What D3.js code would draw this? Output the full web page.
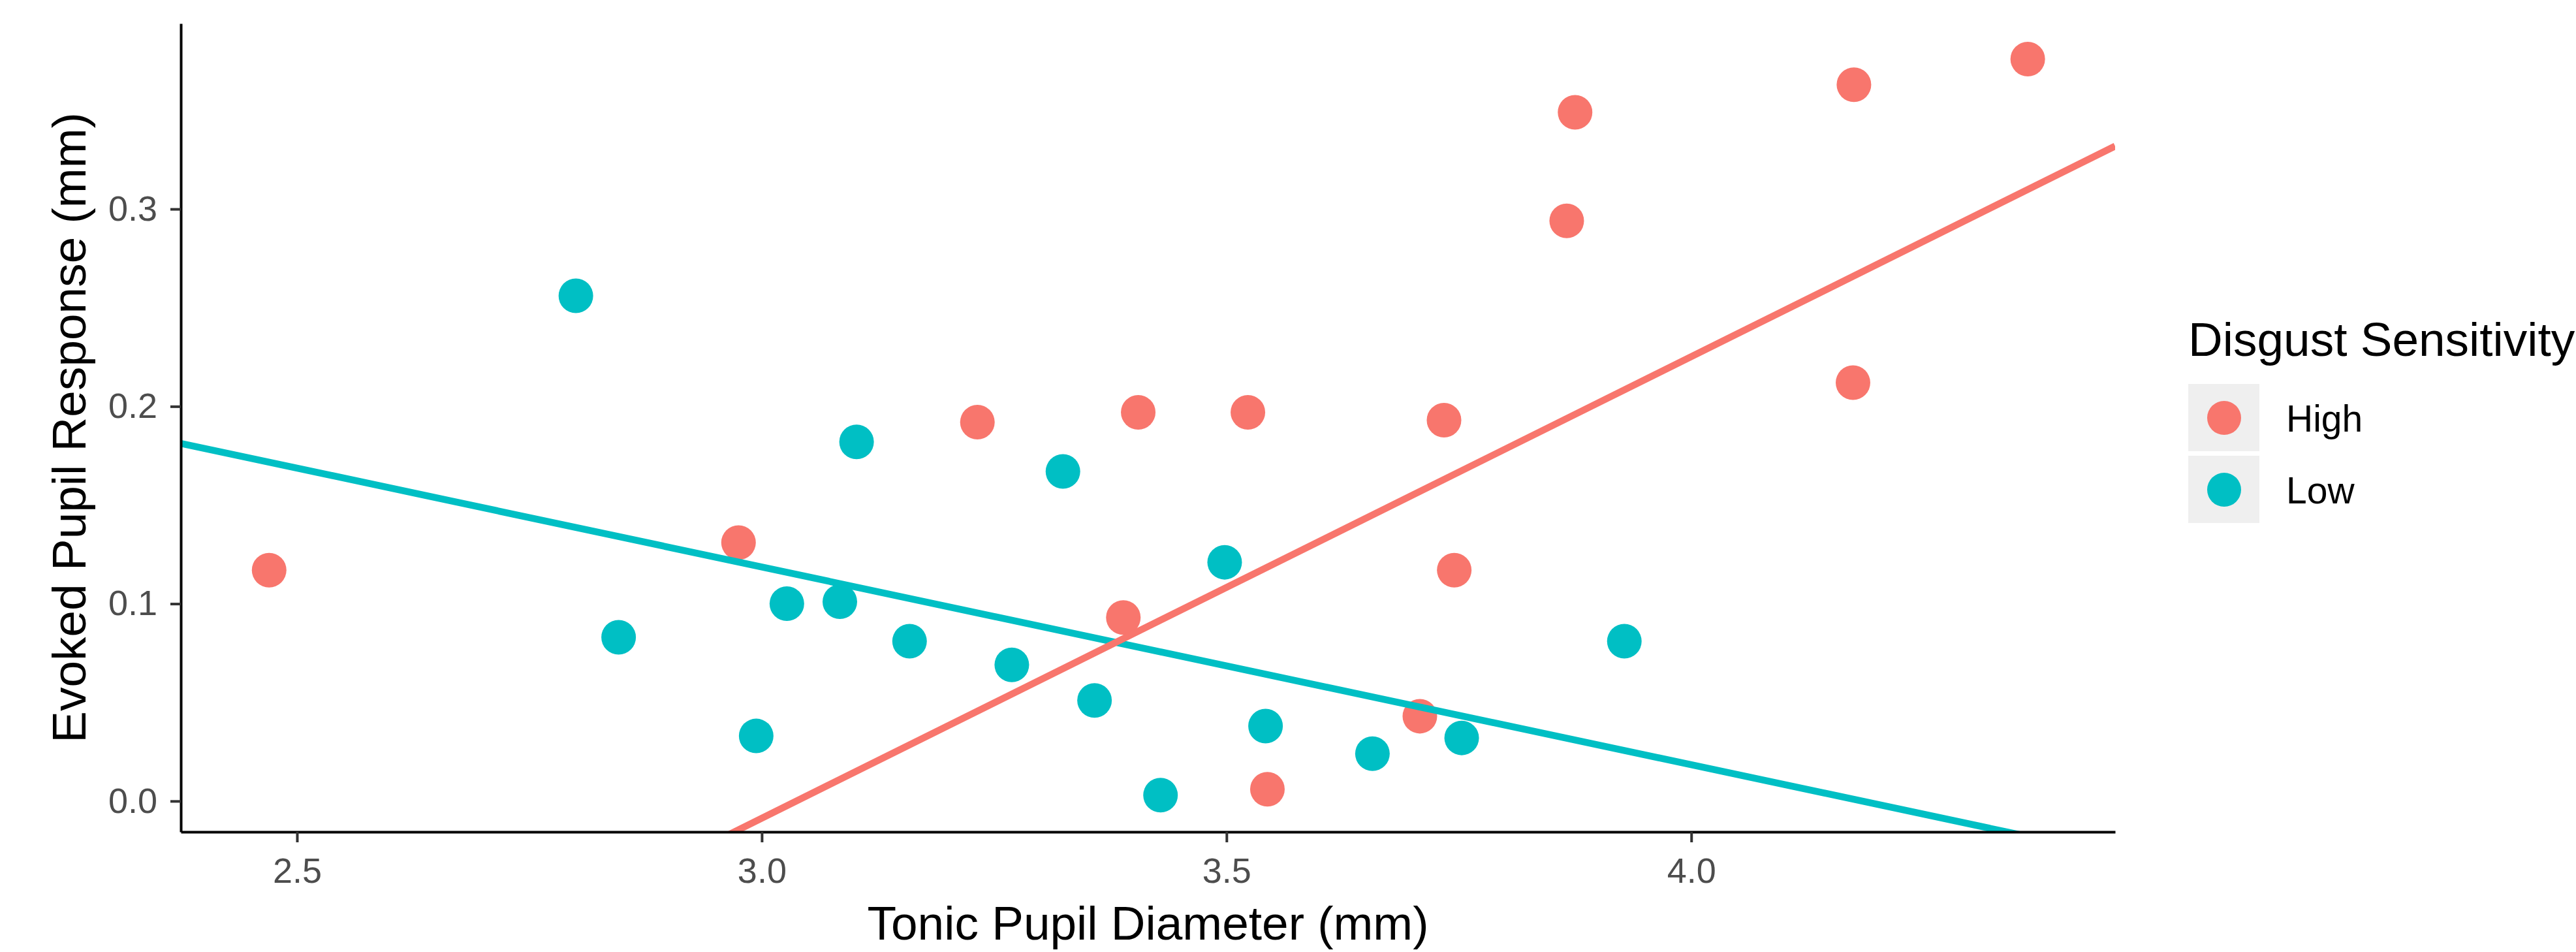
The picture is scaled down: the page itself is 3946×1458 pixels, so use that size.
<!DOCTYPE html>
<html>
<head>
<meta charset="utf-8">
<script src="https://cdn.jsdelivr.net/npm/d3@7"></script>
<style>
  body { margin: 0; background: #fff; }
  text { font-family: "Liberation Sans", Arial, Helvetica, sans-serif; }
</style>
</head>
<body>
<svg id="chart"></svg>
<script>
// Groups and colours (ggplot defaults)
const groups = ["High", "Low"];
const groupColours = ["#F8766D", "#00BFC4"];

// High disgust sensitivity points
const highX = [2.470, 2.975, 3.232, 3.405, 3.523, 3.389, 3.544, 3.708, 3.734, 3.745, 3.866, 3.875, 4.174, 4.175, 4.362];
const highY = [0.117, 0.131, 0.192, 0.197, 0.197, 0.093, 0.006, 0.043, 0.193, 0.117, 0.294, 0.349, 0.212, 0.363, 0.376];

// Low disgust sensitivity points
const lowX = [2.800, 2.846, 2.994, 3.027, 3.084, 3.102, 3.159, 3.269, 3.324, 3.358, 3.429, 3.498, 3.542, 3.657, 3.753, 3.928];
const lowY = [0.256, 0.083, 0.033, 0.100, 0.101, 0.182, 0.081, 0.069, 0.167, 0.051, 0.003, 0.121, 0.038, 0.024, 0.032, 0.081];

// Fitted lines (intercept, slope) per group
const fitIntercept = [-0.7104, 0.4192];
const fitSlope = [0.2339, -0.1002];

// Axis ticks and ranges
const xTicks = [2.5, 3.0, 3.5, 4.0];
const yTicks = [0.0, 0.1, 0.2, 0.3];
const xDomain = [2.375, 4.456];
const yDomain = [-0.0156, 0.394];

const width = 3946;
const height = 1458;
const margin = { top: 36, right: 706, bottom: 184, left: 277 };

const svg = d3.select("#chart")
  .attr("width", width)
  .attr("height", height);

const xScale = d3.scaleLinear()
  .domain(xDomain)
  .range([margin.left, width - margin.right]);

const yScale = d3.scaleLinear()
  .domain(yDomain)
  .range([height - margin.bottom, margin.top]);

// clip for regression lines
svg.append("clipPath")
  .attr("id", "panel-clip")
  .append("rect")
  .attr("x", margin.left)
  .attr("y", margin.top)
  .attr("width", width - margin.left - margin.right)
  .attr("height", height - margin.top - margin.bottom);

// Build point table
const points = [];
highX.forEach((x, i) => points.push({ x: x, y: highY[i], g: 0 }));
lowX.forEach((x, i) => points.push({ x: x, y: lowY[i], g: 1 }));

// Points
svg.append("g")
  .selectAll("circle")
  .data(points)
  .join("circle")
  .attr("cx", d => xScale(d.x))
  .attr("cy", d => yScale(d.y))
  .attr("r", 26.5)
  .attr("fill", d => groupColours[d.g]);

// Regression lines (Low drawn first so High sits on top)
const line = d3.line()
  .x(d => xScale(d[0]))
  .y(d => yScale(d[1]));

const fits = groups.map((g, i) => ({
  g: i,
  pts: xDomain.map(x => [x, fitIntercept[i] + fitSlope[i] * x])
})).reverse();

svg.append("g")
  .attr("clip-path", "url(#panel-clip)")
  .selectAll("path")
  .data(fits)
  .join("path")
  .attr("d", d => line(d.pts))
  .attr("fill", "none")
  .attr("stroke", d => groupColours[d.g])
  .attr("stroke-width", 10.5);

// X axis
const xAxis = d3.axisBottom(xScale)
  .tickValues(xTicks)
  .tickFormat(d3.format(".1f"))
  .tickSize(16)
  .tickSizeOuter(0)
  .tickPadding(24);

const xAxisGroup = svg.append("g")
  .attr("transform", `translate(0,${height - margin.bottom})`)
  .call(xAxis);

// Y axis
const yAxis = d3.axisLeft(yScale)
  .tickValues(yTicks)
  .tickFormat(d3.format(".1f"))
  .tickSize(16)
  .tickSizeOuter(0)
  .tickPadding(20);

const yAxisGroup = svg.append("g")
  .attr("transform", `translate(${margin.left},0)`)
  .call(yAxis);

[xAxisGroup, yAxisGroup].forEach(g => {
  g.select(".domain").attr("stroke", "#000").attr("stroke-width", 4);
  g.selectAll(".tick line").attr("stroke", "#333").attr("stroke-width", 4);
  g.selectAll(".tick text")
    .attr("fill", "#4d4d4d")
    .style("font-size", "54px");
});

// Axis titles
svg.append("text")
  .attr("x", (margin.left + width - margin.right) / 2)
  .attr("y", 1439)
  .attr("text-anchor", "middle")
  .style("font-size", "73px")
  .attr("fill", "#000")
  .text("Tonic Pupil Diameter (mm)");

svg.append("text")
  .attr("transform", `translate(131,${(margin.top + height - margin.bottom) / 2}) rotate(-90)`)
  .attr("text-anchor", "middle")
  .style("font-size", "73px")
  .attr("fill", "#000")
  .text("Evoked Pupil Response (mm)");

// Legend
const legend = svg.append("g").attr("transform", "translate(3352,0)");

legend.append("text")
  .attr("x", 0)
  .attr("y", 545)
  .style("font-size", "73px")
  .attr("fill", "#000")
  .text("Disgust Sensitivity");

const keys = legend.selectAll("g.key")
  .data(groups)
  .join("g")
  .attr("class", "key")
  .attr("transform", (d, i) => `translate(0,${588 + i * 110})`);

keys.append("rect")
  .attr("width", 109)
  .attr("height", 103)
  .attr("fill", "#efefef");

keys.append("circle")
  .attr("cx", 55)
  .attr("cy", 52)
  .attr("r", 26)
  .attr("fill", (d, i) => groupColours[i]);

keys.append("text")
  .attr("x", 150)
  .attr("y", 73)
  .style("font-size", "57px")
  .attr("fill", "#000")
  .text(d => d);
</script>
</body>
</html>
